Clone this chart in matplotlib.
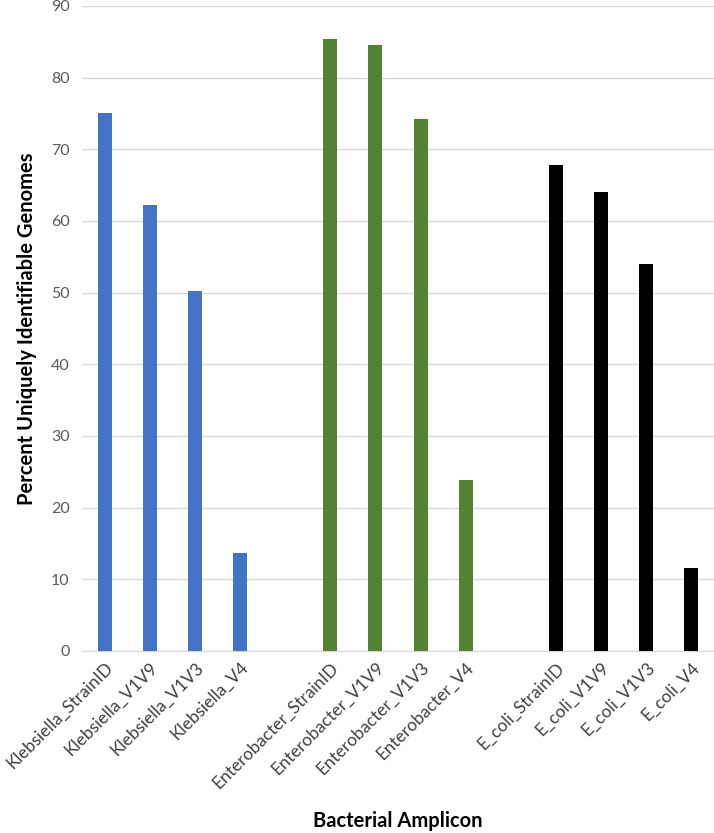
import numpy as np
import matplotlib
matplotlib.use('Agg')
import matplotlib.pyplot as plt

plt.rcParams['font.family'] = ['Lato', 'DejaVu Sans']

# %% data
labels = ['Klebsiella_StrainID', 'Klebsiella_V1V9', 'Klebsiella_V1V3', 'Klebsiella_V4', '',
          'Enterobacter_StrainID', 'Enterobacter_V1V9', 'Enterobacter_V1V3', 'Enterobacter_V4', '',
          'E_coli_StrainID', 'E_coli_V1V9', 'E_coli_V1V3', 'E_coli_V4']
klebsiella = [75.1, 62.2, 50.3, 13.7]
enterobacter = [85.4, 84.5, 74.3, 23.9]
e_coli = [67.8, 64.1, 54.0, 11.6]
colors = ['#4472C4', '#548235', '#000000']

# %% plot
fig = plt.figure(figsize=(7.14, 8.33), dpi=100)
ax = fig.add_axes([0.115, 0.2185, 0.885, 0.7743])

groups = [klebsiella, enterobacter, e_coli]
for g, vals in enumerate(groups):
    x = np.arange(4) + g * 5
    ax.bar(x, vals, width=0.31, color=colors[g], zorder=3)

ax.set_xlim(-0.5, 13.5)
ax.set_ylim(0, 90)
ax.set_yticks(range(0, 91, 10))
ax.grid(axis='y', color='#D9D9D9', linewidth=1, zorder=0)
for s in ['top', 'right', 'left']:
    ax.spines[s].set_visible(False)
ax.spines['bottom'].set_color('#D9D9D9')
ax.tick_params(axis='both', length=0, labelsize=11.5, colors='#595959', pad=9)

pos = [i for i in range(len(labels)) if labels[i] != '']
ax.set_xticks(pos)
ax.set_xticklabels([labels[i] for i in pos], rotation=45, ha='right',
                   rotation_mode='anchor', fontsize=12.5, color='#404040')
ax.tick_params(axis='x', pad=6)

ax.set_ylabel('Percent Uniquely Identifiable Genomes', fontsize=14.5, fontweight='bold', labelpad=10)
ax.set_xlabel('Bacterial Amplicon', fontsize=14.5, fontweight='bold', labelpad=14)

plt.savefig('out.png', dpi=100)
